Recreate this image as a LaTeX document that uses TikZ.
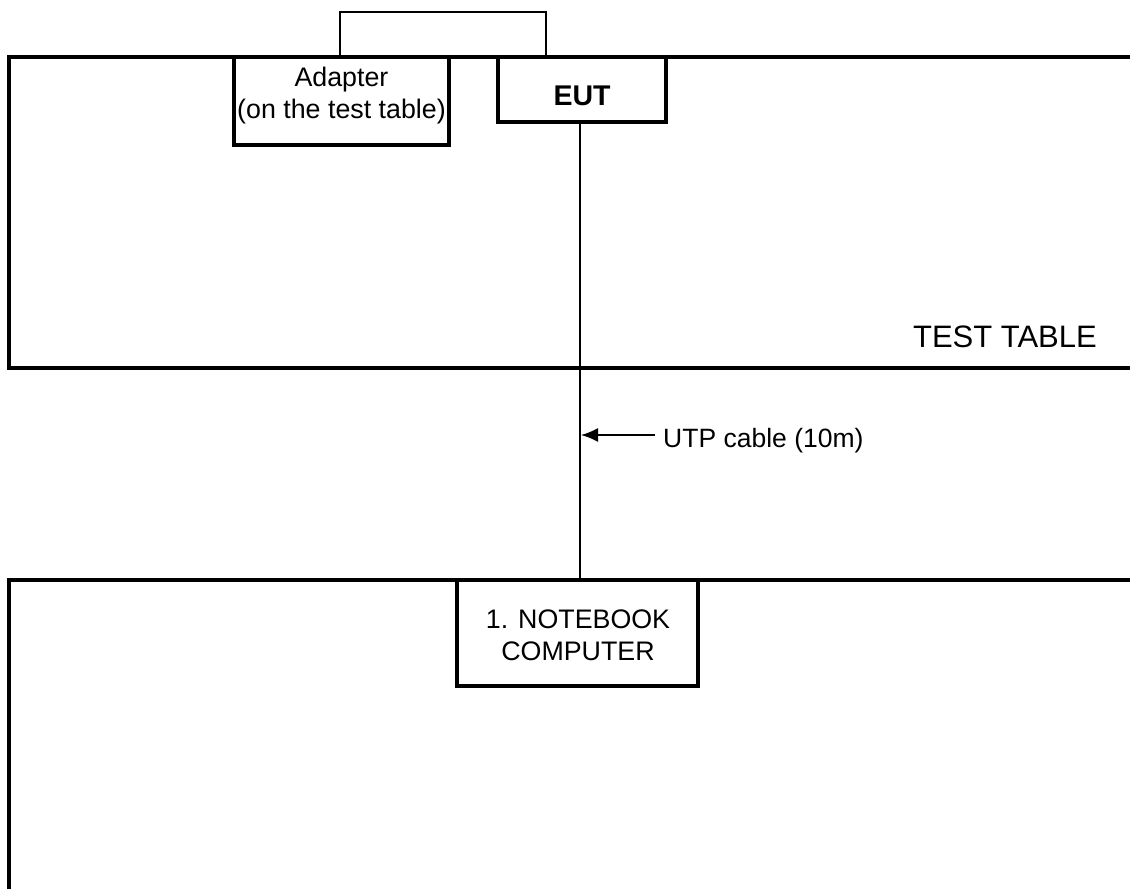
\documentclass[tikz,border=0pt]{standalone}
\usepackage{fontspec}
\setmainfont{Liberation Sans}
\usetikzlibrary{arrows.meta,calc}
\begin{document}
\begin{tikzpicture}[x=1pt,y=-1pt,
  thickline/.style={line width=3.8pt},
  thinline/.style={line width=1.6pt},
  devbox/.style={draw,line width=3.8pt,fill=white,inner sep=0pt,rectangle},
  txt/.style={inner sep=0pt,font=\fontsize{26.8}{31.5}\selectfont,align=center},
]
\useasboundingbox (0,0) rectangle (1130,889);
% tables
\draw[thickline] (1131,57) -- (9,57) -- (9,368) -- (1131,368);
\draw[thickline] (1131,580) -- (9,580) -- (9,890);
\node[txt,anchor=base east,font=\fontsize{31}{36}\selectfont] (tt) at (1097,347) {TEST TABLE};
% boxes
\node[devbox,minimum width=215pt,minimum height=88pt] (adapter) at (341.5,101) {};
\node[txt,anchor=base] (adtxt) at (341.5,118) {Adapter\\(on the test table)};
\node[devbox,minimum width=168pt,minimum height=65pt] (eut) at (582,89.5) {};
\node[txt,anchor=base,font=\fontsize{28.5}{34}\selectfont\bfseries] (euttxt) at (582,105) {EUT};
\node[devbox,minimum width=241pt,minimum height=106pt] (nb) at (577.5,633) {};
\node[txt,anchor=base] (nbtxt) at (578,660) {1. NOTEBOOK\\COMPUTER};
% bracket from adapter
\coordinate (brend) at (546,57);
\draw[thinline] (340,57) -- (340,12) -- (546,12) -- (brend);
% cable
\coordinate (cab) at (580,435);
\draw[thinline] (580,122) -- (580,580);
\node[txt,anchor=base west,font=\fontsize{26.5}{30}\selectfont] (utp) at (663,447) {UTP cable (10m)};
\draw[thinline,-{Latex[length=17pt,width=14pt]}] (655,435) -- ($(cab)+(1,0)$);
\end{tikzpicture}
\end{document}
